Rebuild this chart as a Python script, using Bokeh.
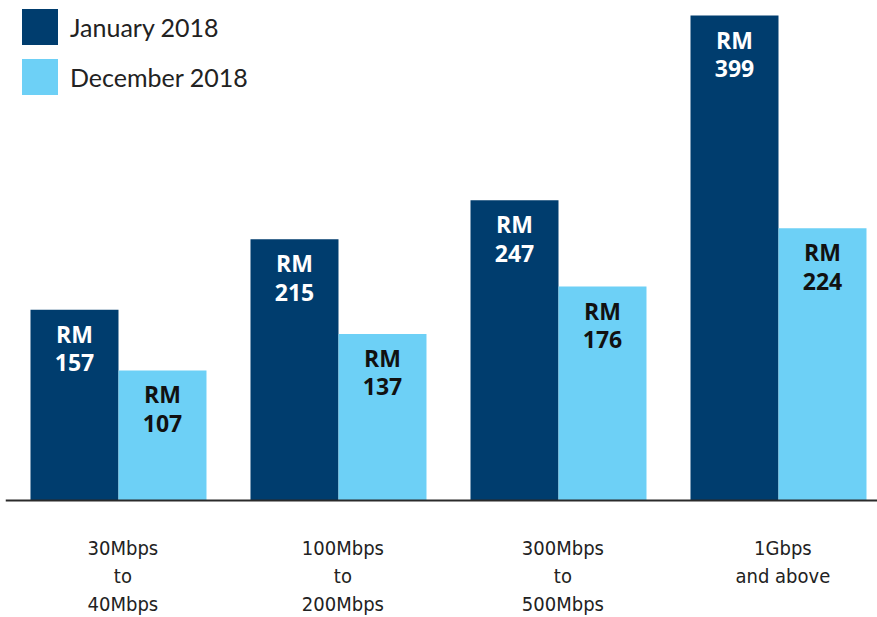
from bokeh.plotting import figure
from bokeh.models import ColumnDataSource, Span, Legend, LegendItem, Range1d
from bokeh.core.properties import value
from bokeh.embed import file_html
from bokeh.resources import INLINE

# --- data ---
categories = [["30Mbps", "to", "40Mbps"],
              ["100Mbps", "to", "200Mbps"],
              ["300Mbps", "to", "500Mbps"],
              ["1Gbps", "and above"]]
series_names = ["January 2018", "December 2018"]
jan_2018 = [157, 215, 247, 399]
dec_2018 = [107, 137, 176, 224]
currency = "RM"

DARK = "#003d6e"
LIGHT = "#6dd0f6"
W, H = 877, 617

p = figure(width=W, height=H, output_backend="svg", toolbar_location=None,
           x_range=Range1d(-0.5136, 3.45), y_range=Range1d(-96.3, 411.4),
           min_border_left=5, min_border_right=0, min_border_top=0,
           min_border_bottom=0, outline_line_color=None)
p.xaxis.visible = False
p.yaxis.visible = False
p.grid.visible = False
p.background_fill_color = "white"
p.border_fill_color = "white"

idx = list(range(len(jan_2018)))
bw = 0.4
src_j = ColumnDataSource(dict(x=[i - bw / 2 for i in idx], top=jan_2018,
                              rm=[currency] * 4, v=[str(v) for v in jan_2018]))
src_d = ColumnDataSource(dict(x=[i + bw / 2 for i in idx], top=dec_2018,
                              rm=[currency] * 4, v=[str(v) for v in dec_2018]))

r_j = p.vbar(x="x", top="top", bottom=0, width=bw, source=src_j,
             fill_color=DARK, line_color=None)
r_d = p.vbar(x="x", top="top", bottom=0, width=bw, source=src_d,
             fill_color=LIGHT, line_color=None)

# baseline
p.add_layout(Span(location=0, dimension="width", line_color="#2b2b2b", line_width=2))

# value labels inside the bars
lab_font = value("Open Sans")
for src, col in ((src_j, "white"), (src_d, "#111111")):
    p.text(x="x", y="top", text="rm", source=src, y_offset=24,
           text_align="center", text_baseline="middle", text_font=lab_font,
           text_font_style="bold", text_font_size="23px", text_color=col)
    p.text(x="x", y="top", text="v", source=src, y_offset=53,
           text_align="center", text_baseline="middle", text_font=lab_font,
           text_font_style="bold", text_font_size="23px", text_color=col)

# category labels under the baseline
cx, cy, ct, co = [], [], [], []
for i, lines in enumerate(categories):
    for k, line in enumerate(lines):
        cx.append(i + 0.02)
        cy.append(0)
        ct.append(line)
        co.append(48 + 28 * k)
p.text(x="cx", y="cy", text="ct", y_offset="co",
       source=ColumnDataSource(dict(cx=cx, cy=cy, ct=ct, co=co)),
       text_align="center", text_baseline="middle",
       text_font=value("'DejaVu Sans Condensed', 'DejaVu Sans', sans-serif"),
       text_font_size="20px", text_color="#222222")

legend = Legend(items=[LegendItem(label=series_names[0], renderers=[r_j]),
                       LegendItem(label=series_names[1], renderers=[r_d])],
                location=(12, 518), orientation="vertical",
                glyph_width=45, glyph_height=45, spacing=5, padding=0,
                margin=0, label_standoff=8, border_line_color=None,
                background_fill_alpha=0,
                label_text_font="Lato", label_text_font_size="25px",
                label_text_color="#222222")
p.add_layout(legend, "center")

open("out.html", "w").write(file_html(p, INLINE))
